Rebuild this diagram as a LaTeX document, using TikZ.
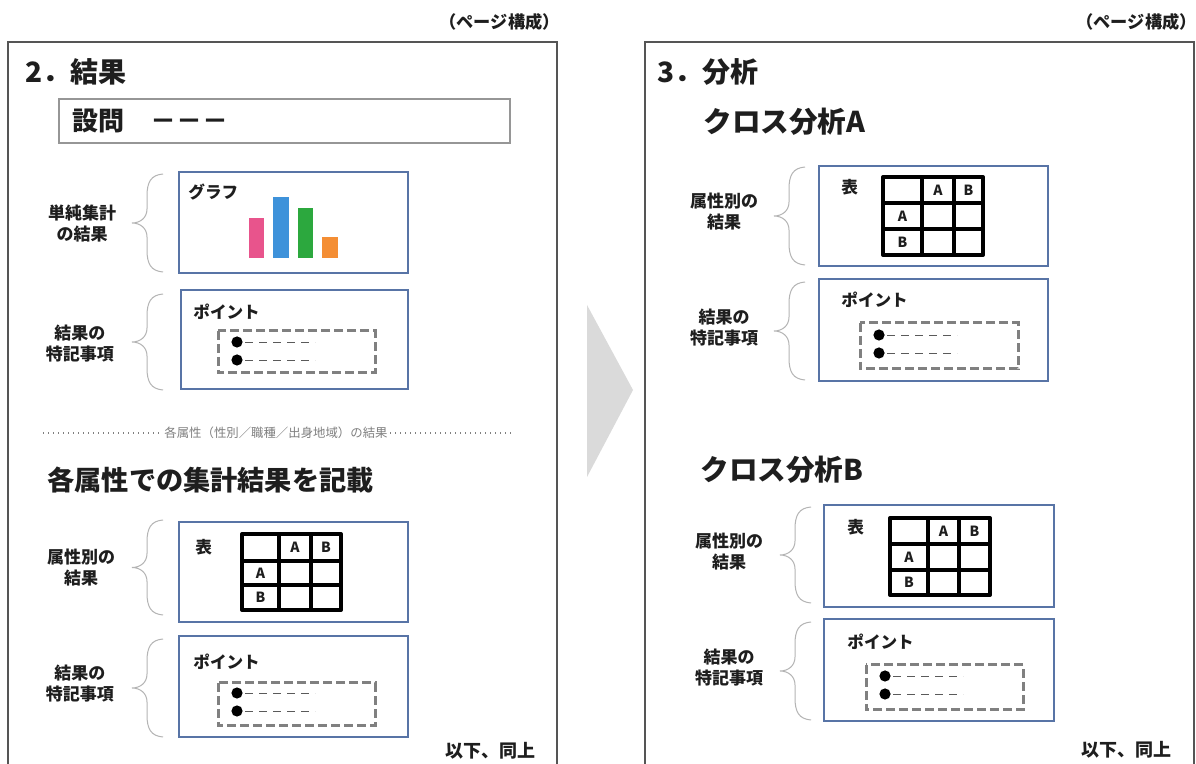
\documentclass[tikz,border=0pt]{standalone}
\usepackage{fontspec}
\setmainfont{Noto Sans CJK JP}
\usetikzlibrary{calc}
\definecolor{framegray}{RGB}{85,85,85}
\definecolor{boxblue}{RGB}{88,116,166}
\definecolor{qgray}{RGB}{150,150,150}
\definecolor{dgray}{RGB}{128,128,128}
\definecolor{bracegray}{RGB}{180,180,180}
\definecolor{arrowgray}{RGB}{218,218,218}
\definecolor{txt}{RGB}{30,30,30}
\definecolor{barpink}{RGB}{232,84,140}
\definecolor{barblue}{RGB}{62,146,218}
\definecolor{bargreen}{RGB}{44,168,62}
\definecolor{barorange}{RGB}{244,142,52}
\tikzset{
  frame/.style={draw=framegray, line width=0.9pt},
  bluebox/.style={draw=boxblue, line width=0.6pt},
  qbox/.style={draw=qgray, line width=0.8pt},
  dbox/.style={draw=dgray, line width=1.5pt, dash pattern=on 4.5pt off 2pt},
  tbl/.style={draw=black, line width=2pt, line join=round},
  cell/.style={font={\fontsize{7}{8}\selectfont\bfseries}, inner sep=0, text=txt},
  lbl/.style={font={\fontsize{8.5}{10.5}\selectfont\bfseries}, align=center, inner sep=0, text=txt},
  head/.style={font={\fontsize{14}{16}\selectfont\bfseries}, anchor=west, inner sep=0, text=txt},
  small/.style={font={\fontsize{8.3}{10}\selectfont\bfseries}, anchor=west, inner sep=0, text=txt},
  brc/.style={draw=bracegray, line width=0.5pt},
  bdash/.style={draw=dgray!70!black, line width=0.45pt, dash pattern=on 4pt off 3pt},
  bulletdot/.style={circle, fill=black, minimum size=5.6pt, inner sep=0},
  sepdot/.style={draw=gray, line width=0.7pt, dash pattern=on 0.7pt off 1.8pt},
}
\newcommand\mybrace[3]{%
  \draw[brc] (#1,#2) .. controls ({#1-12},{#2+1}) and ({#1-16},{#2+8}) .. ({#1-16},{#2+22})
    -- ({#1-16},{(#2+#3)/2-14}) .. controls ({#1-16},{(#2+#3)/2-5}) and ({#1-23},{(#2+#3)/2}) .. ({#1-31},{(#2+#3)/2})
    .. controls ({#1-23},{(#2+#3)/2}) and ({#1-16},{(#2+#3)/2+5}) .. ({#1-16},{(#2+#3)/2+14})
    -- ({#1-16},{#3-22}) .. controls ({#1-16},{#3-8}) and ({#1-12},{#3-1}) .. (#1,#3);}
\newcommand\mybul[3]{%
  \node[bulletdot] (#3) at (#1,#2) {};
  \coordinate (#3e) at ({#1+78},#2);
  \draw[bdash] ($(#3.east)+(2,0)$) -- (#3e);}
\newcommand\mytab[9]{%
  \draw[tbl] (#1,#5) rectangle (#4,#8);
  \draw[tbl] (#2,#5) -- (#2,#8) (#3,#5) -- (#3,#8) (#1,#6) -- (#4,#6) (#1,#7) -- (#4,#7);
  \node[cell] (#9ca) at ({(#2+#3)/2},{(#5+#6)/2}) {A};
  \node[cell] (#9cb) at ({(#3+#4)/2},{(#5+#6)/2}) {B};
  \node[cell] (#9ra) at ({(#1+#2)/2},{(#6+#7)/2}) {A};
  \node[cell] (#9rb) at ({(#1+#2)/2},{(#7+#8)/2}) {B};}
\begin{document}
\begin{tikzpicture}[x=0.5pt, y=-0.5pt]
\useasboundingbox[fill=white] (0,0) rectangle (1196,764);

% ---------- page headers
\node[font={\fontsize{8.6}{10}\selectfont\bfseries}, anchor=east, inner sep=0, text=txt] (pk1) at (560,22) {（ページ構成）};
\node[font={\fontsize{8.6}{10}\selectfont\bfseries}, anchor=east, inner sep=0, text=txt] (pk2) at (1197,22) {（ページ構成）};

% ---------- frames
\draw[frame] (8,764) -- (8,42) -- (557,42) -- (557,764);
\draw[frame] (645,764) -- (645,42) -- (1194,42) -- (1194,764);

% ---------- arrow
\fill[arrowgray] (587,305) -- (633,390) -- (587,477) -- cycle;

% ================= LEFT PAGE
\node[head] (t2) at (25,72) {2．結果};
\draw[qbox] (59,99) rectangle (510,143);
\node[font={\fontsize{13}{15}\selectfont\bfseries}, anchor=west, inner sep=0, text=txt] (q) at (72,121) {設問\hspace{13pt}－－－};

% graph box
\draw[bluebox] (179,172) rectangle (408,273);
\node[small] (gr) at (188,192) {グラフ};
\fill[barpink] (249,218) rectangle (264,258);
\fill[barblue] (273,197) rectangle (289,258);
\fill[bargreen] (298,208) rectangle (313,258);
\fill[barorange] (322,237) rectangle (338,258);
\mybrace{163}{174}{272}
\node[lbl] (l1) at (82,223) {単純集計\\の結果};

% point box 1
\draw[bluebox] (181,290) rectangle (408,389);
\node[small] (p1) at (193,312) {ポイント};
\draw[dbox] (218,331) rectangle (375,373);
\mybul{237}{342}{b1a}
\mybul{237}{360}{b1b}
\mybrace{163}{294}{390}
\node[lbl] (l2) at (80,344) {結果の\\特記事項};

% separator
\node[font={\fontsize{6.2}{7}\selectfont}, text=gray, inner sep=1pt] (sep) at (276,433) {各属性（性別／職種／出身地域）の結果};
\coordinate (sepl) at (43,433);
\coordinate (sepr) at (512,433);
\draw[sepdot] (sepl) -- (sep.west);
\draw[sepdot] (sep.east) -- (sepr);

\node[head, font={\fontsize{13.6}{16}\selectfont\bfseries}] (h2) at (47,480) {各属性での集計結果を記載};

% table box
\draw[bluebox] (179,522) rectangle (408,622);
\node[small] (tb1) at (195,547) {表};
\mytab{242}{279}{311}{341}{534}{561}{585}{610}{ta}
\mybrace{163}{520}{615}
\node[lbl] (l3) at (81,568) {属性別の\\結果};

% point box 2
\draw[bluebox] (179,636) rectangle (408,737);
\node[small] (p2) at (193,662) {ポイント};
\draw[dbox] (218,683) rectangle (375,726);
\mybul{237}{693}{b2a}
\mybul{237}{711}{b2b}
\mybrace{163}{639}{737}
\node[lbl] (l4) at (80,684) {結果の\\特記事項};

\node[font={\fontsize{9}{11}\selectfont\bfseries}, anchor=east, inner sep=0, text=txt] (ika1) at (536,751) {以下、同上};

% ================= RIGHT PAGE
\node[head] (t3) at (657,72) {3．分析};
\node[head, font={\fontsize{14.3}{16}\selectfont\bfseries}] (ca) at (703,122) {クロス分析A};

\draw[bluebox] (819,166) rectangle (1048,266);
\node[small] (tb2) at (841,187) {表};
\mytab{883}{922}{954}{983}{177}{203}{229}{255}{tb}
\mybrace{805}{167}{265}
\node[lbl] (l5) at (724,212) {属性別の\\結果};

\draw[bluebox] (819,279) rectangle (1048,381);
\node[small] (p3) at (841,300) {ポイント};
\draw[dbox] (860,323) rectangle (1018,369);
\mybul{879}{335}{b3a}
\mybul{879}{353}{b3b}
\mybrace{805}{282}{380}
\node[lbl] (l6) at (724,328) {結果の\\特記事項};

\node[head, font={\fontsize{14.3}{16}\selectfont\bfseries}] (cb) at (700,470) {クロス分析B};

\draw[bluebox] (824,505) rectangle (1054,607);
\node[small] (tb3) at (847,527) {表};
\mytab{890}{928}{959}{990}{518}{544}{570}{595}{tc}
\mybrace{811}{507}{603}
\node[lbl] (l7) at (729,552) {属性別の\\結果};

\draw[bluebox] (824,619) rectangle (1054,721);
\node[small] (p4) at (847,642) {ポイント};
\draw[dbox] (866,665) rectangle (1023,710);
\mybul{885}{676}{b4a}
\mybul{885}{694}{b4b}
\mybrace{811}{622}{720}
\node[lbl] (l8) at (729,668) {結果の\\特記事項};

\node[font={\fontsize{9}{11}\selectfont\bfseries}, anchor=east, inner sep=0, text=txt] (ika2) at (1172,750) {以下、同上};
\end{tikzpicture}
\end{document}
